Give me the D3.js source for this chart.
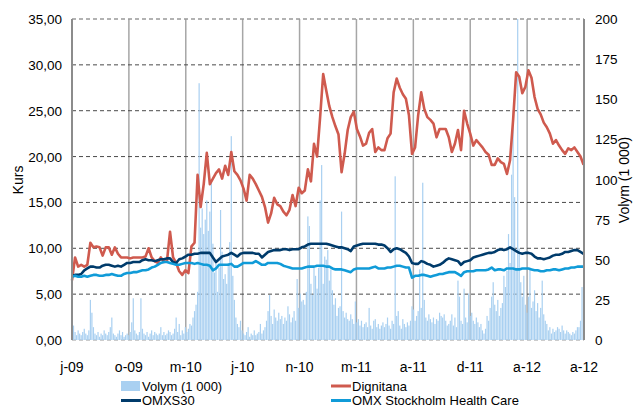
<!DOCTYPE html>
<html>
<head>
<meta charset="utf-8">
<script src="https://cdn.jsdelivr.net/npm/d3@7"></script>
<style>
  body { margin: 0; background: #fff; }
  text { font-family: "Liberation Sans", Arial, sans-serif; fill: #000; }
</style>
</head>
<body>
<script>
// weekly closing prices (SEK), first week of the series = 2009-06-17
var dignitana = [
  6.5, 9.0, 8.0, 8.2, 8.0, 8.2, 10.6, 10.1, 10.2, 10.1,
  9.2, 10.1, 10.1, 9.3, 10.1, 9.4, 9.0, 9.0, 9.0, 8.9,
  9.0, 9.0, 9.0, 9.0, 9.1, 10.0, 9.0, 8.6, 8.4, 9.0,
  8.5, 8.6, 11.8, 9.0, 8.4, 7.5, 7.1, 7.6, 7.3, 10.2,
  10.6, 18.0, 14.5, 17.0, 20.4, 17.0, 17.6, 18.2, 18.6, 17.6,
  19.0, 18.0, 20.5, 18.4, 18.0, 17.4, 16.5, 15.2, 18.0, 17.6,
  17.0, 16.3, 15.6, 14.5, 12.8, 13.8, 15.5, 14.8, 14.6, 14.0,
  13.6, 14.2, 15.8, 14.6, 16.6, 16.0, 16.3, 18.6, 17.3, 21.4,
  20.0, 24.3, 29.0, 27.2, 25.5, 24.3, 23.3, 22.4, 18.3, 20.3,
  22.9, 24.3, 24.9, 23.0, 22.2, 21.2, 21.4, 22.6, 23.0, 20.5,
  21.0, 20.7, 20.7, 22.0, 22.5, 27.0, 28.5, 27.5, 26.8, 26.3,
  24.5, 20.3, 21.0, 24.5, 27.0, 25.2, 24.3, 24.0, 23.6, 22.1,
  23.0, 23.0, 23.0, 22.1, 20.5, 21.4, 22.9, 20.7, 25.0, 23.6,
  22.5, 21.2, 21.8, 21.4, 21.0, 20.5, 20.2, 19.1, 19.1, 19.8,
  19.4, 19.2, 18.1, 19.6, 24.0, 29.2, 28.7, 26.9, 27.6, 29.4,
  28.6, 26.5, 25.2, 24.6, 23.7, 23.2, 22.5, 21.4, 21.8, 21.2,
  20.7, 20.3, 20.9, 20.7, 21.0, 20.5, 20.0, 19.1
];

// indices rebased to Dignitana's price level
var omxs30 = [
  7.0, 7.1, 7.1, 7.2, 7.6, 7.8, 8.0, 8.0, 7.9, 7.9,
  8.1, 8.2, 8.2, 8.1, 8.0, 8.1, 8.0, 8.2, 8.4, 8.4,
  8.5, 8.5, 8.5, 8.7, 8.8, 8.7, 8.7, 8.6, 8.7, 8.8,
  8.8, 8.9, 8.9, 8.5, 8.4, 8.8, 8.9, 9.1, 9.3, 9.3,
  9.4, 9.4, 9.5, 9.5, 9.5, 9.5, 9.0, 8.5, 8.8, 9.1,
  9.2, 9.3, 9.5, 9.3, 9.1, 9.4, 9.5, 9.5, 9.5, 9.5,
  9.4, 9.4, 9.0, 9.3, 9.6, 9.7, 9.8, 9.8, 9.8, 9.9,
  9.9, 9.8, 9.9, 9.9, 9.9, 10.1, 10.2, 10.4, 10.5, 10.5,
  10.5, 10.5, 10.5, 10.5, 10.4, 10.3, 10.2, 10.1, 10.1, 10.0,
  9.9, 9.7, 10.2, 10.3, 10.4, 10.5, 10.5, 10.5, 10.5, 10.5,
  10.4, 10.4, 10.3, 10.0, 9.6, 9.9, 10.0, 9.9, 9.7, 9.5,
  9.1, 8.4, 8.3, 8.3, 8.6, 8.5, 8.3, 8.2, 8.0, 8.1,
  8.2, 8.4, 8.7, 8.9, 8.8, 8.7, 8.6, 8.2, 8.5, 8.6,
  8.7, 9.0, 9.1, 9.2, 9.3, 9.4, 9.5, 9.5, 9.6, 9.8,
  9.9, 9.8, 9.9, 10.1, 9.9, 9.7, 9.5, 9.4, 9.5, 9.5,
  9.4, 9.1, 8.9, 8.9, 8.8, 8.9, 9.0, 9.2, 9.3, 9.3,
  9.4, 9.6, 9.6, 9.7, 9.8, 9.8, 9.6, 9.4
];

var healthCare = [
  6.9, 7.0, 6.9, 6.9, 7.0, 6.9, 7.0, 7.1, 7.1, 7.0,
  7.0, 7.1, 7.1, 7.2, 7.1, 7.0, 7.0, 7.2, 7.3, 7.3,
  7.4, 7.4, 7.5, 7.6, 7.6, 7.7, 7.9, 8.0, 8.2, 8.4,
  8.5, 8.5, 8.4, 8.3, 8.2, 8.2, 8.3, 8.4, 8.4, 8.4,
  8.3, 8.4, 8.3, 8.2, 8.2, 8.1, 7.6, 7.8, 8.2, 8.2,
  8.2, 8.2, 8.3, 8.0, 8.0, 8.2, 8.4, 8.4, 8.4, 8.4,
  8.6, 8.4, 8.2, 8.2, 8.4, 8.4, 8.4, 8.4, 8.3, 8.1,
  8.0, 7.9, 7.8, 7.8, 7.8, 7.8, 7.9, 8.0, 8.0, 8.0,
  8.1, 8.1, 8.1, 8.0, 8.0, 7.8, 7.7, 7.7, 7.7, 7.6,
  7.5, 7.4, 7.7, 7.8, 7.8, 7.8, 7.8, 7.8, 7.9, 8.0,
  7.8, 7.8, 7.8, 7.9, 7.9, 8.0, 8.1, 8.1, 8.0, 7.9,
  7.9, 6.8, 7.0, 7.0, 7.1, 7.1, 7.0, 6.9, 7.0, 7.1,
  7.2, 7.2, 7.3, 7.4, 7.4, 7.4, 7.2, 7.0, 7.4, 7.5,
  7.5, 7.5, 7.6, 7.6, 7.6, 7.6, 7.7, 7.9, 7.6, 7.7,
  7.7, 7.6, 7.8, 7.8, 7.8, 7.7, 7.7, 7.8, 7.8, 7.8,
  7.7, 7.6, 7.6, 7.5, 7.5, 7.6, 7.6, 7.7, 7.7, 7.6,
  7.7, 7.8, 7.8, 7.9, 7.9, 8.0, 8.0, 8.0
];

// traded volume (thousands of shares), two readings per week
var volym = [
  16, 9, 5, 3, 6, 4, 3, 5, 7, 4, 3, 6, 25, 17, 8, 4, 3, 5, 2, 4, 3, 6,
  4, 3, 5, 8, 14, 4, 3, 2, 4, 6, 3, 5, 2, 3, 4, 3, 5, 11, 26, 6, 4, 3,
  5, 26, 7, 4, 3, 5, 2, 4, 6, 3, 5, 4, 3, 4, 8, 3, 5, 3, 4, 6, 5, 3,
  4, 7, 14, 5, 10, 3, 6, 4, 8, 5, 7, 10, 9, 14, 18, 22,
  30, 160, 70, 82, 66, 75, 87, 68, 80, 100, 60, 42, 50, 30,
  45, 81, 55, 38, 41, 35, 48, 61, 127, 40, 25, 14, 10, 8, 12,
  6, 4, 3, 5, 8, 2, 4, 3, 6, 3, 4, 5, 10, 4,
  6, 8, 12, 18, 28, 15, 10, 19, 14, 12, 17, 13, 15,
  10, 14, 12, 21, 16, 11, 14, 18, 12, 38, 20, 29, 24,
  25, 22, 30, 77, 71, 35, 28, 46, 40, 32, 45, 87, 109, 35, 52,
  50, 56, 37, 44, 31, 22, 26, 15, 20, 21, 80, 18, 14, 17, 13,
  12, 16, 13, 10, 24, 11, 13, 9, 12, 8, 10, 11, 8, 20, 9, 7, 12, 13, 8, 10,
  7, 9, 11, 8, 10, 14, 9, 7, 12, 10, 102, 15, 18, 9, 7, 13, 10, 8, 11, 9, 12, 21, 19, 12, 15,
  18, 44, 20, 98, 25, 14, 12, 16, 13, 11, 14, 10, 13, 12, 17, 15, 14, 16, 12, 9,
  10, 12, 16, 9, 14, 8, 37, 27, 12, 10, 32, 14, 11, 29, 15,
  17, 12, 10, 14, 11, 8, 10, 6, 4, 7, 15, 12, 20, 27, 36, 22, 18, 25, 15, 20,
  23, 40, 33, 43, 66, 48, 103, 143, 89, 45, 200, 57, 36, 27, 40, 22,
  17, 27, 45, 20, 24, 31, 18, 23, 14, 20, 37, 16, 12, 10, 6, 8, 4, 7, 5,
  6, 8, 7, 5, 9, 6, 4, 6, 5, 4, 3, 5, 4, 6, 8, 8, 12, 33, 20
];

var tickLabels = [ "j-09", "o-09", "m-10", "j-10", "n-10", "m-11", "a-11", "d-11", "a-12", "a-12" ];
var kursTicks = [ 0, 5, 10, 15, 20, 25, 30, 35 ];
var volTicks = [ 0, 25, 50, 75, 100, 125, 150, 175, 200 ];

var startDate = new Date( 2009, 5, 17 );
var endDate = new Date( 2012, 7, 30 );

// plot box (note: "top" is taken by window.top, so prefixed names)
var plotLeft = 72, plotRight = 584, plotTop = 19, plotBottom = 340;

var svg = d3.select( "body" ).append( "svg" )
  .attr( "width", 633 )
  .attr( "height", 407 );

var x = d3.scaleTime().domain( [ startDate, endDate ] ).range( [ plotLeft, plotRight ] );
var yKurs = d3.scaleLinear().domain( [ 0, 35 ] ).range( [ plotBottom, plotTop ] );
var yVol = d3.scaleLinear().domain( [ 0, 200 ] ).range( [ plotBottom, plotTop ] );

// ticks every 130 days along the date axis
var tickDates = tickLabels.map( function ( d, k ) {
  return d3.timeDay.offset( startDate, k * 130 );
} );

var sv = d3.formatLocale( { decimal: ",", thousands: " ", grouping: [ 3 ], currency: [ "", " kr" ] } );
var fmtKurs = sv.format( ".2f" );

// vertical grid
svg.selectAll( "line.vgrid" )
  .data( tickDates.slice( 1, -1 ) )
  .enter().append( "line" )
  .attr( "class", "vgrid" )
  .attr( "x1", function ( d ) { return x( d ); } )
  .attr( "x2", function ( d ) { return x( d ); } )
  .attr( "y1", plotTop )
  .attr( "y2", plotBottom )
  .attr( "stroke", "#a6a6a6" )
  .attr( "stroke-width", 1.5 );

// horizontal dashed grid
svg.selectAll( "line.hgrid" )
  .data( kursTicks )
  .enter().append( "line" )
  .attr( "class", "hgrid" )
  .attr( "x1", plotLeft )
  .attr( "x2", plotRight )
  .attr( "y1", function ( d ) { return yKurs( d ); } )
  .attr( "y2", function ( d ) { return yKurs( d ); } )
  .attr( "stroke", function ( d ) { return d == 35 || d == 0 ? "#999" : "#4a4a4a"; } )
  .attr( "stroke-width", function ( d ) { return d == 35 ? 1.5 : 1; } )
  .attr( "stroke-dasharray", "4,3" );

// volume bars
svg.selectAll( "rect.vol" )
  .data( volym )
  .enter().append( "rect" )
  .attr( "class", "vol" )
  .attr( "x", function ( d, j ) { return x( d3.timeHour.offset( startDate, j * 84 ) ) - 0.6; } )
  .attr( "width", 1.2 )
  .attr( "y", function ( d ) { return yVol( d ); } )
  .attr( "height", function ( d ) { return plotBottom - yVol( d ); } )
  .attr( "fill", "#a9d0f1" );

var line = d3.line()
  .x( function ( d, i ) { return x( d3.timeDay.offset( startDate, i * 7 ) ); } )
  .y( function ( d ) { return yKurs( d ); } );

var series = [
  { values: dignitana, color: "#cf5a4e" },
  { values: omxs30, color: "#003b6b" },
  { values: healthCare, color: "#109bd8" }
];

svg.selectAll( "path.serie" )
  .data( series )
  .enter().append( "path" )
  .attr( "class", "serie" )
  .attr( "d", function ( d ) { return line( d.values ); } )
  .attr( "fill", "none" )
  .attr( "stroke", function ( d ) { return d.color; } )
  .attr( "stroke-width", 2.6 )
  .attr( "stroke-linejoin", "round" );

// axis lines
svg.append( "line" )
  .attr( "x1", plotLeft ).attr( "x2", plotLeft )
  .attr( "y1", plotTop ).attr( "y2", plotBottom )
  .attr( "stroke", "#8c8c8c" ).attr( "stroke-width", 2 );
svg.append( "line" )
  .attr( "x1", plotRight ).attr( "x2", plotRight )
  .attr( "y1", plotTop ).attr( "y2", plotBottom )
  .attr( "stroke", "#8c8c8c" ).attr( "stroke-width", 2 );

// left tick labels
svg.selectAll( "text.kurs" )
  .data( kursTicks )
  .enter().append( "text" )
  .attr( "class", "kurs" )
  .attr( "x", 62 )
  .attr( "y", function ( d ) { return yKurs( d ) + 5; } )
  .attr( "text-anchor", "end" )
  .style( "font-size", "13.5px" )
  .text( function ( d ) { return fmtKurs( d ); } );

// right tick labels
svg.selectAll( "text.volt" )
  .data( volTicks )
  .enter().append( "text" )
  .attr( "class", "volt" )
  .attr( "x", 595 )
  .attr( "y", function ( d ) { return yVol( d ) + 5; } )
  .style( "font-size", "13.5px" )
  .text( function ( d ) { return d; } );

// date labels
svg.selectAll( "text.date" )
  .data( tickDates )
  .enter().append( "text" )
  .attr( "class", "date" )
  .attr( "x", function ( d ) { return x( d ); } )
  .attr( "y", 372 )
  .attr( "text-anchor", "middle" )
  .style( "font-size", "14px" )
  .text( function ( d, k ) { return tickLabels[ k ]; } );

// axis titles
svg.append( "text" )
  .attr( "transform", "translate(23,180) rotate(-90)" )
  .attr( "text-anchor", "middle" )
  .style( "font-size", "14px" )
  .text( "Kurs" );
svg.append( "text" )
  .attr( "transform", "translate(629,180) rotate(-90)" )
  .attr( "text-anchor", "middle" )
  .style( "font-size", "14px" )
  .text( "Volym (1 000)" );

// legend
var legend = [
  { name: "Volym (1 000)", color: "#a9d0f1", bar: true, lx: 121, ly: 386 },
  { name: "Dignitana", color: "#cf5a4e", bar: false, lx: 331, ly: 386 },
  { name: "OMXS30", color: "#003b6b", bar: false, lx: 121, ly: 400.5 },
  { name: "OMX Stockholm Health Care", color: "#109bd8", bar: false, lx: 331, ly: 400.5 }
];

var lg = svg.selectAll( "g.leg" )
  .data( legend )
  .enter().append( "g" )
  .attr( "class", "leg" )
  .attr( "transform", function ( d ) { return "translate(" + d.lx + "," + d.ly + ")"; } );

lg.filter( function ( d ) { return d.bar; } ).append( "rect" )
  .attr( "x", 0 ).attr( "y", -5 )
  .attr( "width", 19 ).attr( "height", 10 )
  .attr( "fill", function ( d ) { return d.color; } );

lg.filter( function ( d ) { return !d.bar; } ).append( "line" )
  .attr( "x1", 0 ).attr( "x2", 20 )
  .attr( "y1", 0 ).attr( "y2", 0 )
  .attr( "stroke", function ( d ) { return d.color; } )
  .attr( "stroke-width", 3 );

lg.append( "text" )
  .attr( "x", 21 )
  .attr( "y", 4.5 )
  .style( "font-size", "13px" )
  .text( function ( d ) { return d.name; } );
</script>
</body>
</html>
